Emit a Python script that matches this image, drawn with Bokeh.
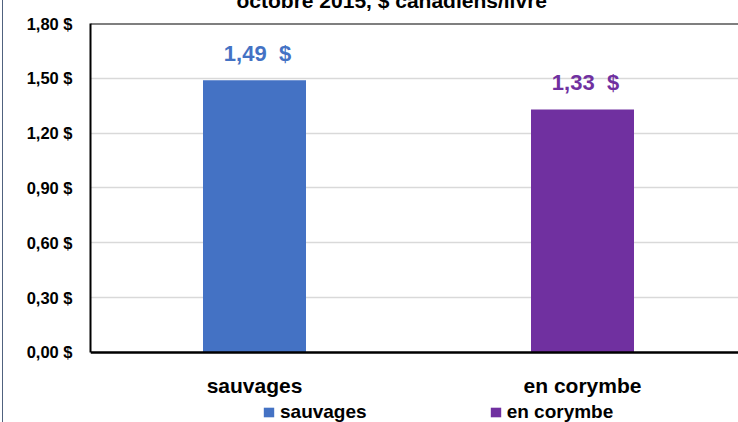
from bokeh.plotting import figure
from bokeh.models import (Range1d, FixedTicker, CustomJSTickFormatter, Legend, LegendItem, Span)
from bokeh.core.properties import value
from bokeh.embed import file_html
from bokeh.resources import INLINE

# ---- data ----
categories = ["sauvages", "en corymbe"]
prices = [1.49, 1.33]
colors = ["#4472C4", "#7030A0"]
y_ticks = [0.0, 0.3, 0.6, 0.9, 1.2, 1.5, 1.8]
title_text = "octobre 2015, $ canadiens/livre"

FONT = "Liberation Sans"
HIDDEN_TOP = 28  # top part of the chart (title) lies above the window

positions = [i + 0.5 for i in range(len(categories))]
labels = [f"{v:.2f}".replace(".", ",") + "\u00a0 $" for v in prices]

# the frame runs down to the bottom so that the axis labels and legend can sit below zero
p = figure(width=738, height=422 + HIDDEN_TOP, output_backend="svg", toolbar_location=None,
           x_range=Range1d(0, 1.9756), y_range=Range1d(-0.383, 1.8),
           min_border_left=90, min_border_right=0, min_border_top=23 + HIDDEN_TOP,
           min_border_bottom=0)
p.margin = (-HIDDEN_TOP, 0, 0, 0)
p.outline_line_color = None
p.background_fill_color = "white"
p.border_fill_alpha = 0
p.styles = {"background": "linear-gradient(to right, white 2px, #50627f 2px, #50627f 3.5px, white 3.5px)"}

# title (cut off at the top, as in the original)
p.title.text = title_text
p.title.align = "left"
p.title.offset = 146
p.title.standoff = 24
p.title.vertical_align = "bottom"
p.title.text_font = FONT
p.title.text_font_size = "21px"
p.title.text_font_style = "bold"
p.title.text_color = "black"

renderers = []
for pos, val, c in zip(positions, prices, colors):
    r = p.vbar(x=[pos], top=[val], width=0.314, fill_color=c, line_color=None)
    renderers.append(r)

p.text(x=positions, y=prices, text=labels, text_color=colors, x_offset=3, y_offset=-27,
       text_align="center", text_baseline="middle", text_font=value(FONT),
       text_font_size="22px", text_font_style="bold")

# axes
p.xaxis.fixed_location = 0
p.xaxis.ticker = FixedTicker(ticks=positions)
p.xaxis.major_label_overrides = dict(zip(positions, categories))
p.xaxis.major_tick_line_color = None
p.xaxis.minor_tick_line_color = None
p.xaxis.major_tick_out = 0
p.xaxis.major_tick_in = 0
p.xaxis.axis_line_color = "black"
p.xaxis.axis_line_width = 2.5
p.xaxis.major_label_text_font = FONT
p.xaxis.major_label_text_font_size = "21px"
p.xaxis.major_label_text_font_style = "bold"
p.xaxis.major_label_text_color = "black"
p.xaxis.major_label_standoff = 22

p.yaxis.bounds = (y_ticks[0], y_ticks[-1])
p.yaxis.ticker = FixedTicker(ticks=y_ticks)
p.yaxis.formatter = CustomJSTickFormatter(code="return tick.toFixed(2).replace('.', ',') + ' $'")
p.yaxis.major_tick_line_color = None
p.yaxis.minor_tick_line_color = None
p.yaxis.major_tick_out = 0
p.yaxis.major_tick_in = 0
p.yaxis.axis_line_color = "black"
p.yaxis.axis_line_width = 2
p.yaxis.major_label_text_font = FONT
p.yaxis.major_label_text_font_size = "16.5px"
p.yaxis.major_label_text_font_style = "bold"
p.yaxis.major_label_text_color = "black"
p.yaxis.major_label_standoff = 18

p.xgrid.visible = False
p.ygrid.ticker = FixedTicker(ticks=y_ticks)
p.ygrid.grid_line_color = "#d9d9d9"
p.ygrid.grid_line_width = 1.5

p.add_layout(Span(location=y_ticks[-1], dimension="width", line_color="black", line_width=2))

# legend under the category labels
leg = Legend(items=[LegendItem(label=cat, renderers=[r]) for cat, r in zip(categories, renderers)],
             location=(172, -1), orientation="horizontal",
             padding=0, margin=0, spacing=122,
             border_line_color=None, background_fill_alpha=0,
             glyph_width=13, glyph_height=12, label_standoff=5, label_height=12,
             label_text_font=FONT, label_text_font_size="19px",
             label_text_font_style="bold", label_text_color="black")
p.add_layout(leg)

open("out.html", "w").write(file_html(p, INLINE))
